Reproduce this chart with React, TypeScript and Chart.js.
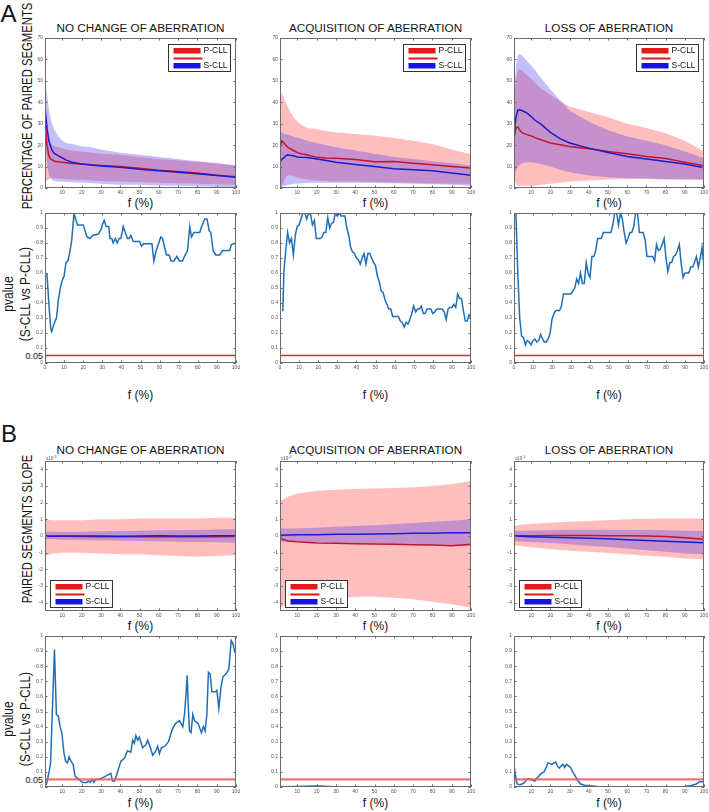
import React, { useEffect, useRef } from "react";
import { Chart, registerables } from "chart.js";

Chart.register(...registerables);

// ---------------- DATA ----------------
const COLUMN_TITLES = ["NO CHANGE OF ABERRATION", "ACQUISITION OF ABERRATION", "LOSS OF ABERRATION"];

// Panel A (top): percentage of paired segments vs f (%)
const X_A1 = [1, 2, 3, 4, 5, 6, 8, 10, 12, 15, 20, 25, 30, 40, 50, 60, 70, 80, 90, 100];

const A1_NC_RED_MEAN = [30, 20, 15, 13.5, 13, 12.5, 12.2, 12, 11.8, 11.4, 11.2, 10.8, 10.5, 10, 9.2, 8.3, 7.7, 7, 6, 5.2];
const A1_NC_BLUE_MEAN = [38, 28, 22, 19, 17, 16, 15, 14, 13, 12, 11.2, 10.7, 10.3, 9.7, 8.7, 8, 7.4, 6.7, 5.8, 5];
const A1_NC_RED_UP = [40, 32, 25, 21, 20, 19.5, 19, 18.5, 18, 17.5, 17, 16.5, 16, 15.5, 14.5, 13.5, 12.8, 12.2, 11.5, 10.5];
const A1_NC_RED_LO = [3, 3.5, 4, 4.5, 4.5, 4.5, 4.3, 4.3, 4, 4, 3.8, 3.5, 3.3, 3, 2.8, 2.5, 2.2, 2, 1.8, 1.5];
const A1_NC_BLUE_UP = [50, 44, 37, 32, 29, 27, 24, 22, 21, 20.5, 19.5, 19, 18, 16.5, 15.5, 14.5, 13.5, 12.5, 11.5, 10.5];
const A1_NC_BLUE_LO = [25, 12, 6, 4.5, 3.5, 3.2, 3, 3, 2.8, 2.7, 2.5, 2.3, 2, 1.5, 1.5, 1.2, 1, 0.8, 0.5, 0.3];

const A1_ACQ_RED_MEAN = [19, 22, 21, 20, 19, 18.5, 17.5, 16.5, 16, 15.5, 14.3, 14, 13.9, 13.3, 12.2, 12.4, 11.6, 10.9, 10, 9.3];
const A1_ACQ_BLUE_MEAN = [12, 13.5, 14, 15, 15.5, 15.3, 15, 14.5, 14.3, 14.2, 13.5, 12.8, 12, 11, 10, 9, 8.5, 8, 7, 6];
const A1_ACQ_RED_UP = [45, 44, 42, 40, 38, 36, 33, 31, 29.5, 28, 27.5, 26.5, 26, 25.2, 24.5, 23.3, 22, 20.5, 18, 15.8];
const A1_ACQ_RED_LO = [0, 1, 3, 5, 6, 6, 5.5, 5, 4.5, 4, 3.5, 3.3, 3, 3, 2.8, 2.6, 2.4, 2.2, 2, 2];
const A1_ACQ_BLUE_UP = [25, 26, 25.5, 25, 25, 24.5, 24, 23.5, 23, 22, 21, 20, 19, 17.5, 16, 14.5, 13.5, 12.5, 11.5, 10.5];
const A1_ACQ_BLUE_LO = [0, 0.5, 1, 1, 1.5, 1.5, 2, 2, 2.2, 2.3, 2.4, 2.5, 2.5, 2.5, 2.3, 2.2, 2, 1.8, 1.5, 1];

const A1_LOSS_RED_MEAN = [23, 28, 28.5, 27, 26, 25.5, 24.8, 24.3, 23.5, 22.5, 21, 20.2, 19.4, 18.3, 17, 16, 14.7, 13.8, 12, 10.4];
const A1_LOSS_BLUE_MEAN = [25, 33, 36.4, 36.5, 36.2, 35.8, 34.8, 33.3, 31.6, 29.8, 26, 23, 21, 18.6, 16.6, 14.7, 13.5, 12.4, 11.2, 9.5];
const A1_LOSS_RED_UP = [40, 50, 55, 55.5, 55, 54, 52.5, 51, 49, 46.5, 43.5, 40.5, 38, 35.5, 33, 30, 28, 25.5, 22, 17];
const A1_LOSS_RED_LO = [5, 2, 1, 1, 1, 1, 1, 1, 1.2, 1.5, 2, 2.5, 3, 3.5, 4, 4.2, 4.2, 4, 4, 4];
const A1_LOSS_BLUE_UP = [45, 57, 62, 62.5, 62, 61, 59, 57, 55, 51.5, 46, 41, 36, 31, 27, 24, 22, 20, 17, 14];
const A1_LOSS_BLUE_LO = [5, 8, 10, 11, 11.5, 11.8, 12, 12, 11.8, 11.2, 10, 8.5, 7.3, 5.8, 5, 4.6, 4.4, 4.2, 4, 3.8];

// Panel A (bottom): pvalue (S-CLL vs P-CLL) vs f (%), pairs [f, pvalue]
const A2_NC_P = [[1,0.6],[2,0.4],[3,0.23],[3.5,0.21],[5,0.27],[6,0.3],[7,0.42],[8,0.5],[9,0.55],[10,0.58],[11,0.67],[12,0.68],[13,0.74],[14,0.82],[15.2,1.0],[16,0.96],[17,0.92],[20,0.92],[22,0.84],[23.5,0.83],[25,0.85],[28,0.86],[29.6,0.9],[30,0.92],[31,0.95],[32,0.91],[33.4,0.91],[34,0.83],[35,0.83],[35.7,0.8],[36.8,0.83],[37.8,0.8],[38.8,0.83],[39.7,0.83],[41,0.91],[42,0.87],[43.2,0.83],[44,0.83],[45,0.85],[46.2,0.81],[48.4,0.81],[49.5,0.81],[50.5,0.78],[51.5,0.795],[56,0.795],[57,0.68],[58,0.74],[60.6,0.84],[61.5,0.83],[63.6,0.72],[65,0.72],[66,0.68],[67.5,0.68],[69,0.71],[70.5,0.68],[72,0.68],[73,0.71],[74.6,0.75],[75.8,0.91],[76.7,0.84],[78,0.87],[81,0.87],[82,0.91],[83.6,0.96],[84.8,0.96],[86,0.88],[86.8,0.87],[88,0.75],[89.4,0.72],[91.5,0.72],[93,0.75],[96.7,0.75],[97.6,0.79],[100,0.8]];
const A2_ACQ_P = [[1,0.35],[1.5,0.35],[2,0.6],[3,0.75],[4,0.87],[5,0.8],[6,0.83],[7,0.72],[8,0.85],[9,0.91],[10,0.92],[11,0.96],[12,1.0],[13,1.0],[14,0.96],[15,1.0],[16,0.99],[17,0.92],[18,0.95],[19,0.83],[21,0.83],[22,0.84],[23,0.87],[24,0.87],[25,0.97],[26,0.9],[27,0.93],[28,0.94],[29,1.0],[30,0.98],[31,1.0],[32,0.98],[34,0.98],[35,0.9],[36,0.85],[37,0.77],[38,0.74],[39,0.73],[40,0.7],[41,0.69],[42,0.66],[43,0.7],[44,0.73],[45,0.66],[46,0.73],[47,0.73],[48,0.7],[49,0.67],[50,0.65],[51,0.58],[52,0.54],[53,0.48],[54,0.47],[55,0.42],[56,0.39],[57,0.36],[58,0.36],[59,0.31],[61,0.31],[62,0.31],[63,0.28],[64,0.27],[65,0.24],[66,0.27],[67,0.26],[68,0.29],[69,0.33],[70,0.38],[71,0.34],[72,0.36],[73,0.36],[74,0.38],[75,0.33],[76,0.33],[77,0.36],[79,0.36],[80,0.33],[81,0.34],[82,0.36],[85,0.36],[86,0.34],[87,0.29],[88,0.36],[89,0.37],[90,0.37],[91,0.39],[92,0.37],[93,0.46],[94,0.43],[95,0.43],[96,0.35],[97,0.28],[98,0.28],[99,0.32],[100,0.3]];
const A2_LOSS_P = [[1,1.0],[2,0.6],[3,0.3],[4,0.18],[5,0.17],[6,0.12],[7,0.15],[8,0.14],[9,0.12],[10,0.15],[11,0.16],[12,0.14],[13,0.15],[14,0.19],[15,0.16],[16,0.14],[17,0.14],[18,0.16],[19,0.2],[20,0.29],[21,0.33],[22,0.35],[24,0.35],[25,0.38],[26,0.46],[30,0.46],[32,0.5],[33,0.56],[34,0.53],[35,0.6],[36,0.53],[37,0.53],[38,0.67],[39,0.6],[40,0.57],[41,0.71],[42,0.71],[43,0.75],[44,0.83],[46,0.83],[47,0.87],[51,0.87],[52,0.92],[53,1.0],[54,1.0],[55,0.92],[56,1.0],[57,0.96],[58,0.87],[59,0.8],[60,0.83],[61,0.87],[62,0.87],[63,0.91],[64,1.0],[65,1.0],[66,0.87],[68,0.87],[69,0.82],[70,0.71],[73,0.71],[74,0.68],[75,0.79],[76,0.75],[77,0.76],[78,0.79],[79,0.83],[80,0.7],[81,0.61],[82,0.67],[83,0.67],[84,0.71],[85,0.72],[86,0.75],[87,0.79],[88,0.66],[89,0.57],[90,0.6],[92,0.6],[93,0.64],[94,0.64],[95,0.67],[96,0.71],[97,0.64],[98,0.7],[99,0.77],[100,0.64]];

// Panel B (top): paired segments slope (x10^-3) vs f (%)
const X_B1 = [1, 5, 10, 20, 30, 40, 50, 60, 70, 80, 90, 100];

const B1_NC_RED_MEAN = [0, -0.02, -0.02, -0.03, -0.04, -0.05, -0.05, -0.05, -0.05, -0.05, -0.05, -0.03];
const B1_NC_BLUE_MEAN = [0, -0.01, 0, 0, 0, -0.01, 0, 0.01, 0, 0, 0.01, 0.02];
const B1_NC_RED_UP = [1.0, 0.95, 0.95, 0.95, 1.0, 1.0, 1.05, 1.05, 1.05, 1.05, 1.1, 1.1];
const B1_NC_RED_LO = [-1.2, -1.05, -1.0, -1.0, -1.05, -1.1, -1.1, -1.15, -1.2, -1.25, -1.2, -1.15];
const B1_NC_BLUE_UP = [0.25, 0.25, 0.25, 0.26, 0.28, 0.3, 0.32, 0.34, 0.35, 0.37, 0.39, 0.4];
const B1_NC_BLUE_LO = [-0.2, -0.2, -0.22, -0.24, -0.26, -0.28, -0.3, -0.32, -0.34, -0.36, -0.38, -0.4];

const B1_ACQ_RED_MEAN = [-0.15, -0.3, -0.35, -0.42, -0.44, -0.46, -0.48, -0.5, -0.52, -0.54, -0.58, -0.5];
const B1_ACQ_BLUE_MEAN = [0.05, 0.06, 0.07, 0.08, 0.1, 0.11, 0.12, 0.14, 0.16, 0.17, 0.19, 0.2];
const B1_ACQ_RED_UP = [2.1, 2.35, 2.55, 2.7, 2.78, 2.82, 2.85, 2.88, 2.92, 3.0, 3.1, 3.3];
const B1_ACQ_RED_LO = [-4.3, -4.1, -4.0, -3.85, -3.75, -3.65, -3.65, -3.7, -3.8, -3.95, -4.1, -4.3];
const B1_ACQ_BLUE_UP = [0.45, 0.45, 0.45, 0.5, 0.55, 0.6, 0.65, 0.72, 0.78, 0.85, 0.92, 1.0];
const B1_ACQ_BLUE_LO = [-0.35, -0.35, -0.35, -0.38, -0.4, -0.42, -0.45, -0.48, -0.5, -0.55, -0.58, -0.62];

const B1_LOSS_RED_MEAN = [0, 0.01, 0.02, 0.03, 0.03, 0.03, 0.02, 0.01, 0, -0.03, -0.1, -0.2];
const B1_LOSS_BLUE_MEAN = [0, -0.02, -0.04, -0.07, -0.1, -0.13, -0.17, -0.22, -0.27, -0.31, -0.36, -0.4];
const B1_LOSS_RED_UP = [0.6, 0.68, 0.73, 0.8, 0.86, 0.9, 0.95, 1.0, 1.03, 1.05, 1.05, 1.05];
const B1_LOSS_RED_LO = [-0.55, -0.62, -0.68, -0.78, -0.88, -0.95, -1.02, -1.1, -1.18, -1.25, -1.35, -1.4];
const B1_LOSS_BLUE_UP = [0.3, 0.32, 0.33, 0.35, 0.37, 0.37, 0.37, 0.37, 0.36, 0.35, 0.32, 0.3];
const B1_LOSS_BLUE_LO = [-0.3, -0.33, -0.36, -0.42, -0.5, -0.58, -0.66, -0.75, -0.85, -0.95, -1.05, -1.1];

// Panel B (bottom): pvalue pairs [f, pvalue]
const B2_NC_P = [[1,0.0],[2,0.03],[3.1,0.1],[3.9,0.16],[4.8,0.5],[5.9,0.91],[6.9,0.48],[7.9,0.47],[8.8,0.4],[9.7,0.36],[10.9,0.22],[11.7,0.17],[12.6,0.16],[13.5,0.2],[14.5,0.17],[15.6,0.15],[16.6,0.07],[18.7,0.05],[20.4,0.03],[22.5,0.03],[23.5,0.04],[24.4,0.03],[25.6,0.05],[26.3,0.03],[27.3,0.05],[29.1,0.05],[32.2,0.07],[35.1,0.09],[36,0.04],[37,0.04],[38.1,0.08],[39.1,0.12],[40.3,0.17],[42.1,0.19],[43.8,0.24],[45.5,0.23],[46.4,0.31],[47.3,0.29],[48.1,0.34],[49,0.31],[49.9,0.33],[51.6,0.26],[53.3,0.28],[54.2,0.31],[55.9,0.25],[56.8,0.21],[58.5,0.24],[59.4,0.27],[60.3,0.22],[61.3,0.26],[63.2,0.27],[65,0.3],[66.9,0.38],[68.6,0.42],[70.7,0.44],[72.4,0.4],[73.3,0.48],[74.1,0.62],[74.7,0.74],[75.2,0.55],[75.9,0.37],[76.7,0.36],[77.6,0.48],[78.5,0.44],[80.4,0.42],[82.1,0.36],[83.1,0.4],[84,0.37],[84.9,0.48],[85.7,0.76],[86.6,0.75],[87.5,0.63],[89.2,0.63],[90.1,0.64],[91.1,0.52],[92.2,0.66],[93.2,0.73],[94.9,0.75],[96.3,0.78],[97.5,0.97],[98.4,0.95],[99.3,0.9],[100,0.88]];
const B2_ACQ_P = [[1,0.002],[10,0.003],[18,0.006],[22,0.007],[26,0.004],[30,0.002],[40,0.001],[100,0.001]];
const B2_LOSS_P = [[1,0.15],[1.7,0.08],[2.6,0.02],[4,0.015],[5.2,0.02],[6.6,0.03],[7.4,0.05],[8.6,0.055],[10,0.05],[10.9,0.045],[11.8,0.04],[12.6,0.055],[13.8,0.07],[15.2,0.09],[16.6,0.1],[17.8,0.13],[18.7,0.16],[19.8,0.155],[20.8,0.15],[21.8,0.16],[22.7,0.165],[23.6,0.14],[24.6,0.125],[25.7,0.14],[26.5,0.15],[27.4,0.13],[28.3,0.15],[29.5,0.14],[30.5,0.13],[31.6,0.1],[33,0.07],[34.4,0.04],[35.7,0.02],[37.8,0.012],[40.4,0.008],[44.8,0.003],[53.4,0.001],[79.5,0.001],[89.9,0.004],[93.4,0.01],[96,0.02],[97.7,0.035],[100,0.035]];

const P_THRESHOLD = 0.05;

// tick labels
const X_TICKS_FROM10 = [10, 20, 30, 40, 50, 60, 70, 80, 90, 100];
const X_TICKS_FROM0 = [0, 10, 20, 30, 40, 50, 60, 70, 80, 90, 100];
const A1_Y_TICKS = [0, 10, 20, 30, 40, 50, 60, 70];
const P_Y_TICKS = [0, 0.1, 0.2, 0.3, 0.4, 0.5, 0.6, 0.7, 0.8, 0.9, 1];
const B1_Y_TICKS = [-4, -3, -2, -1, 0, 1, 2, 3, 4];
const LEGEND_LABELS = ["P-CLL", "S-CLL"];

// ---------------- STYLE / LAYOUT ----------------
const FONT = "'Liberation Sans', Arial, Helvetica, sans-serif";
const RED_LINE = "#c4142c";
const BLUE_LINE = "#1c1ccf";
const RED_FILL = "rgba(255,20,20,0.28)";
const BLUE_FILL = "rgba(60,40,235,0.30)";
const P_LINE = "#1f6fb6";

const PAD_L = 22, PAD_T = 9, PAD_R = 8, PAD_B = 12;
const COLS = [{ l: 45, r: 236 }, { l: 280, r: 471 }, { l: 514, r: 704 }];
const ROW_A1 = { t: 38, b: 188 };
const ROW_A2 = { t: 213, b: 363 };
const ROW_B1 = { t: 461, b: 611 };
const ROW_B2 = { t: 636, b: 787 };

const framePlugin = {
  id: "frame",
  afterDatasetsDraw(chart: any, _args: any, opts: any) {
    const { ctx, chartArea: a, scales } = chart;
    ctx.save();
    ctx.strokeStyle = "#6a6a6a";
    ctx.lineWidth = 1;
    const tl = 2.5;
    ctx.beginPath();
    scales.x.ticks.forEach((t: any) => {
      const px = Math.round(scales.x.getPixelForValue(t.value)) + 0.5;
      ctx.moveTo(px, a.bottom); ctx.lineTo(px, a.bottom - tl);
      ctx.moveTo(px, a.top); ctx.lineTo(px, a.top + tl);
    });
    scales.y.ticks.forEach((t: any) => {
      const py = Math.round(scales.y.getPixelForValue(t.value)) + 0.5;
      ctx.moveTo(a.left, py); ctx.lineTo(a.left + tl, py);
      ctx.moveTo(a.right, py); ctx.lineTo(a.right - tl, py);
    });
    ctx.stroke();
    ctx.strokeRect(Math.round(a.left) + 0.5, Math.round(a.top) + 0.5, Math.round(a.right - a.left) - 1, Math.round(a.bottom - a.top) - 1);

    if (opts && opts.exponent) {
      ctx.fillStyle = "#555";
      ctx.textBaseline = "alphabetic";
      ctx.textAlign = "left";
      ctx.font = `4.5px ${FONT}`;
      ctx.fillText("x10", a.left + 1, a.top - 1.5);
      const w = ctx.measureText("x10").width;
      ctx.font = `3.5px ${FONT}`;
      ctx.fillText("-3", a.left + 1 + w, a.top - 3.5);
    }

    if (opts && opts.legend) {
      const bw = 62, bh = 27;
      const bx = opts.legend === "tr" ? Math.round(a.right - 6 - bw) + 0.5 : Math.round(a.left + 5) + 0.5;
      const by = opts.legend === "tr" ? Math.round(a.top + 6) + 0.5 : Math.round(a.bottom - 4 - bh) + 0.5;
      ctx.fillStyle = "#ffffff";
      ctx.fillRect(bx, by, bw, bh);
      ctx.strokeStyle = "#333";
      ctx.lineWidth = 1;
      ctx.strokeRect(bx, by, bw, bh);
      ctx.fillStyle = "#e81818";
      ctx.fillRect(bx + 5, by + 3.5, 27, 5.5);
      ctx.fillStyle = "#dd1620";
      ctx.fillRect(bx + 5, by + 13, 29, 2);
      ctx.fillStyle = "#1414e0";
      ctx.fillRect(bx + 5, by + 18.5, 27, 5.5);
      ctx.fillStyle = "#111";
      ctx.font = `8.5px ${FONT}`;
      ctx.textBaseline = "middle";
      ctx.textAlign = "left";
      ctx.fillText(LEGEND_LABELS[0], bx + 35, by + 6.5);
      ctx.fillText(LEGEND_LABELS[1], bx + 35, by + 21.5);
    }
    ctx.restore();
  },
};

function axisOptions(xMin: number, xTicks: number[], yMin: number, yMax: number, yTicks: number[], yFmt: (v: number) => string) {
  const tickFont = { size: 5, family: FONT };
  return {
    x: {
      type: "linear",
      min: xMin,
      max: 100,
      grid: { display: false, drawTicks: false },
      border: { display: false },
      afterBuildTicks: (s: any) => { s.ticks = xTicks.map((v) => ({ value: v })); },
      afterFit: (s: any) => { s.height = PAD_B; },
      ticks: { font: tickFont, color: "#555", padding: 1.5, maxRotation: 0, autoSkip: false, callback: (v: any) => String(v) },
    },
    y: {
      type: "linear",
      min: yMin,
      max: yMax,
      grid: { display: false, drawTicks: false },
      border: { display: false },
      afterBuildTicks: (s: any) => { s.ticks = yTicks.map((v) => ({ value: v })); },
      afterFit: (s: any) => { s.width = PAD_L; },
      ticks: { font: tickFont, color: "#555", padding: 2, autoSkip: false, callback: (v: any) => yFmt(Number(v)) },
    },
  };
}

function baseOptions(scales: any, frame: any) {
  return {
    animation: false,
    responsive: false,
    maintainAspectRatio: false,
    events: [],
    layout: { padding: { left: 0, top: PAD_T, right: PAD_R, bottom: 0 } },
    elements: { point: { radius: 0 }, line: { tension: 0 } },
    plugins: { legend: { display: false }, tooltip: { enabled: false }, title: { display: false }, frame },
    scales,
  };
}

const toPts = (xs: number[], ys: number[]) => xs.map((x, i) => ({ x, y: ys[i] }));

function bandConfig(xs: number[], s: number[][], yMin: number, yMax: number, yTicks: number[], frame: any) {
  const [redMean, blueMean, redUp, redLo, blueUp, blueLo] = s;
  return {
    type: "line",
    data: {
      datasets: [
        { data: toPts(xs, blueMean), borderColor: BLUE_LINE, borderWidth: 1.5, fill: false },
        { data: toPts(xs, redMean), borderColor: RED_LINE, borderWidth: 1.5, fill: false },
        { data: toPts(xs, blueUp), borderColor: "transparent", borderWidth: 0, fill: "+1", backgroundColor: BLUE_FILL },
        { data: toPts(xs, blueLo), borderColor: "transparent", borderWidth: 0, fill: false },
        { data: toPts(xs, redUp), borderColor: "transparent", borderWidth: 0, fill: "+1", backgroundColor: RED_FILL },
        { data: toPts(xs, redLo), borderColor: "transparent", borderWidth: 0, fill: false },
      ],
    },
    options: baseOptions(axisOptions(1, X_TICKS_FROM10, yMin, yMax, yTicks, (v) => String(Math.round(v))), frame),
    plugins: [framePlugin],
  };
}

function pConfig(pairs: number[][], xMin: number, xTicks: number[], thColor: string, thWidth: number) {
  return {
    type: "line",
    data: {
      datasets: [
        { data: [{ x: xMin, y: P_THRESHOLD }, { x: 100, y: P_THRESHOLD }], borderColor: thColor, borderWidth: thWidth, fill: false },
        { data: pairs.map(([x, y]) => ({ x, y })), borderColor: P_LINE, borderWidth: 1.5, fill: false },
      ],
    },
    options: baseOptions(axisOptions(xMin, xTicks, 0, 1, P_Y_TICKS, (v) => String(Math.round(v * 10) / 10)), {}),
    plugins: [framePlugin],
  };
}

function Panel({ col, row, make }: { col: { l: number; r: number }; row: { t: number; b: number }; make: () => any }) {
  const ref = useRef<HTMLCanvasElement>(null);
  const w = col.r - col.l + PAD_L + PAD_R;
  const h = row.b - row.t + PAD_T + PAD_B;
  useEffect(() => {
    const chart = new Chart(ref.current as HTMLCanvasElement, make());
    return () => chart.destroy();
  }, []);
  return (
    <canvas
      ref={ref}
      width={w}
      height={h}
      style={{ position: "absolute", left: col.l - PAD_L, top: row.t - PAD_T, width: w, height: h }}
    />
  );
}

function Label({ cx, cy, size, children, rotate = false, stretch = 1, align = "center", weight = 400, lh }: any) {
  const tf = rotate
    ? `translate(-50%,-50%) rotate(-90deg) scale(1,${stretch})`
    : align === "right"
    ? "translate(-100%,-50%)"
    : "translate(-50%,-50%)";
  return (
    <div
      style={{
        position: "absolute",
        left: cx,
        top: cy,
        transform: tf,
        fontFamily: FONT,
        fontSize: size,
        lineHeight: `${lh || size}px`,
        whiteSpace: "nowrap",
        textAlign: "center",
        color: "#141414",
        fontWeight: weight,
      }}
    >
      {children}
    </div>
  );
}

export default function App() {
  const a1 = [
    [A1_NC_RED_MEAN, A1_NC_BLUE_MEAN, A1_NC_RED_UP, A1_NC_RED_LO, A1_NC_BLUE_UP, A1_NC_BLUE_LO],
    [A1_ACQ_RED_MEAN, A1_ACQ_BLUE_MEAN, A1_ACQ_RED_UP, A1_ACQ_RED_LO, A1_ACQ_BLUE_UP, A1_ACQ_BLUE_LO],
    [A1_LOSS_RED_MEAN, A1_LOSS_BLUE_MEAN, A1_LOSS_RED_UP, A1_LOSS_RED_LO, A1_LOSS_BLUE_UP, A1_LOSS_BLUE_LO],
  ];
  const b1 = [
    [B1_NC_RED_MEAN, B1_NC_BLUE_MEAN, B1_NC_RED_UP, B1_NC_RED_LO, B1_NC_BLUE_UP, B1_NC_BLUE_LO],
    [B1_ACQ_RED_MEAN, B1_ACQ_BLUE_MEAN, B1_ACQ_RED_UP, B1_ACQ_RED_LO, B1_ACQ_BLUE_UP, B1_ACQ_BLUE_LO],
    [B1_LOSS_RED_MEAN, B1_LOSS_BLUE_MEAN, B1_LOSS_RED_UP, B1_LOSS_RED_LO, B1_LOSS_BLUE_UP, B1_LOSS_BLUE_LO],
  ];
  const a2 = [A2_NC_P, A2_ACQ_P, A2_LOSS_P];
  const b2 = [B2_NC_P, B2_ACQ_P, B2_LOSS_P];

  return (
    <div style={{ position: "absolute", left: 0, top: 0, width: 709, height: 812, background: "#fff", overflow: "hidden" }}>
      <Label cx={8.5} cy={13.5} size={24}>A</Label>
      <Label cx={9} cy={434} size={24}>B</Label>

      <Label cx={27.5} cy={106} size={11.3} rotate stretch={1.3}>PERCENTAGE OF PAIRED SEGMENTS</Label>
      <Label cx={17} cy={294} size={12} rotate stretch={1.15} lh={14.5}>
        pvalue<br />(S-CLL vs P-CLL)
      </Label>
      <Label cx={27.5} cy={529} size={11.3} rotate stretch={1.3}>PAIRED SEGMENTS SLOPE</Label>
      <Label cx={17} cy={719} size={12} rotate stretch={1.15} lh={14.5}>
        pvalue<br />(S-CLL vs P-CLL)
      </Label>
      <Label cx={43} cy={355.5} size={9} align="right">0.05</Label>
      <Label cx={43} cy={779.5} size={9} align="right">0.05</Label>

      {COLS.map((c, i) => (
        <React.Fragment key={i}>
          <Label cx={(c.l + c.r) / 2} cy={27.5} size={11.7}>{COLUMN_TITLES[i]}</Label>
          <Label cx={(c.l + c.r) / 2} cy={450} size={11.7}>{COLUMN_TITLES[i]}</Label>
          <Label cx={(c.l + c.r) / 2} cy={203} size={12}>f (%)</Label>
          <Label cx={(c.l + c.r) / 2} cy={395} size={12}>f (%)</Label>
          <Label cx={(c.l + c.r) / 2} cy={626} size={12}>f (%)</Label>
          <Label cx={(c.l + c.r) / 2} cy={803} size={12}>f (%)</Label>

          <Panel col={c} row={ROW_A1} make={() => bandConfig(X_A1, a1[i], 0, 70, A1_Y_TICKS, { legend: "tr" })} />
          <Panel col={c} row={ROW_A2} make={() => pConfig(a2[i], 0, X_TICKS_FROM0, "#e3262a", 1.3)} />
          <Panel col={c} row={ROW_B1} make={() => bandConfig(X_B1, b1[i], -4.5, 4.5, B1_Y_TICKS, { legend: "bl", exponent: true })} />
          <Panel col={c} row={ROW_B2} make={() => pConfig(b2[i], 1, X_TICKS_FROM10, "rgba(240,90,90,0.85)", 2.2)} />
        </React.Fragment>
      ))}
    </div>
  );
}
